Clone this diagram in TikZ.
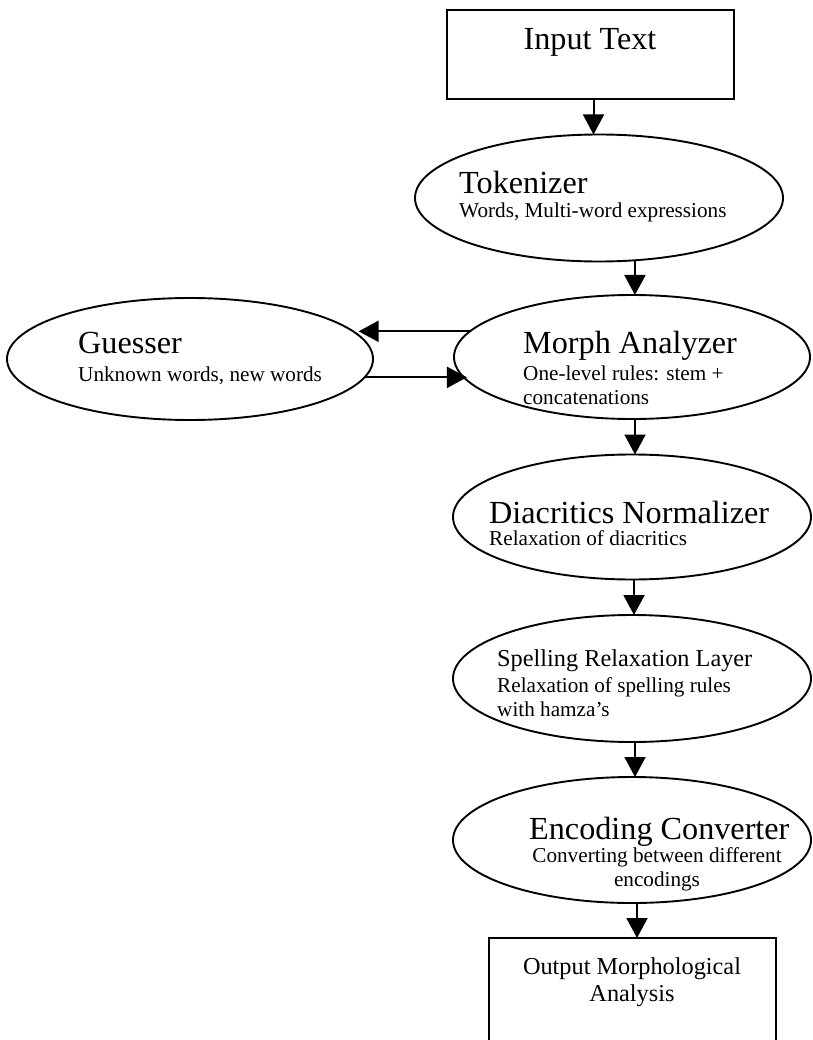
\documentclass[tikz,border=0pt]{standalone}
\usepackage{fontspec}
\setmainfont{Liberation Serif}
\usetikzlibrary{shapes.geometric,arrows.meta}
\begin{document}
\begin{tikzpicture}[x=1pt,y=-1pt,
  shp/.style={draw,line width=1.9pt,inner sep=0pt,outer sep=0pt},
  ell/.style={shp,ellipse},
  arr/.style={line width=2pt,-{Triangle[width=21pt,length=20pt]}},
  ttl/.style={font=\fontsize{32.2}{36}\selectfont,inner sep=0pt,anchor=base west},
  ttls/.style={font=\fontsize{24.3}{27}\selectfont,inner sep=0pt,anchor=base west},
  sub/.style={font=\fontsize{21.2}{24}\selectfont,inner sep=0pt,anchor=base west,align=left}]
\useasboundingbox (0,0) rectangle (812,1040);
% shapes
\node[shp,minimum width=287pt,minimum height=89pt] (in) at (590.5,54.5) {};
\node[ell,minimum width=368pt,minimum height=127pt] (tok) at (599,198) {};
\node[ell,minimum width=356pt,minimum height=124pt] (morph) at (632,357) {};
\node[ell,minimum width=366pt,minimum height=122pt] (guess) at (190,359) {};
\node[ell,minimum width=358pt,minimum height=125pt] (dia) at (632,517) {};
\node[ell,minimum width=358pt,minimum height=127pt] (spell) at (632,678.5) {};
\node[ell,minimum width=358pt,minimum height=126pt] (enc) at (632,840) {};
\node[shp,minimum width=287pt,minimum height=130pt] (out) at (632.5,1003) {};
% connectors
\draw[arr] ([xshift=3pt]in.south) -- ([xshift=3pt]in.south |- tok.north);
\draw[arr] (tok.-60.7) -- (tok.-60.7 |- morph.north);
\draw[arr] (morph.171.7) -- (guess.8.9 |- morph.171.7);
\draw[arr] (guess.-6.6) -- (morph.-172.45 |- guess.-6.6);
\draw[arr] ([xshift=3pt]morph.south) -- ([xshift=3pt]morph.south |- dia.north);
\draw[arr] ([xshift=2pt]dia.south) -- ([xshift=2pt]dia.south |- spell.north);
\draw[arr] ([xshift=3pt]spell.south) -- ([xshift=3pt]spell.south |- enc.north);
\draw[arr] ([xshift=5pt]enc.south) -- ([xshift=5pt]enc.south |- out.north);
% texts
\node[ttl,anchor=base] (tin) at (590,50) {Input Text};
\node[ttl] (ttok) at (459,194) {Tokenizer};
\node[sub] (stok) at (459,218) {Words, Multi-word expressions};
\node[ttl] (tgue) at (78,353) {Guesser};
\node[sub] (sgue) at (78,381) {Unknown words, new words};
\node[ttl] (tmor) at (523,353) {Morph Analyzer};
\node[sub] (smor) at (523,404) {One-level rules: stem +\\concatenations};
\node[ttl] (tdia) at (489,523) {Diacritics Normalizer};
\node[sub] (sdia) at (489,545) {Relaxation of diacritics};
\node[ttls] (tspe) at (497,666) {Spelling Relaxation Layer};
\node[sub] (sspe) at (497,716) {Relaxation of spelling rules\\with hamza's};
\node[ttl] (tenc) at (529,839) {Encoding Converter};
\node[sub,align=center,anchor=base] (senc) at (657,886) {Converting between different\\encodings};
\node[ttls,align=center,anchor=base] (tout) at (632,1001) {Output Morphological\\Analysis};
\end{tikzpicture}
\end{document}
